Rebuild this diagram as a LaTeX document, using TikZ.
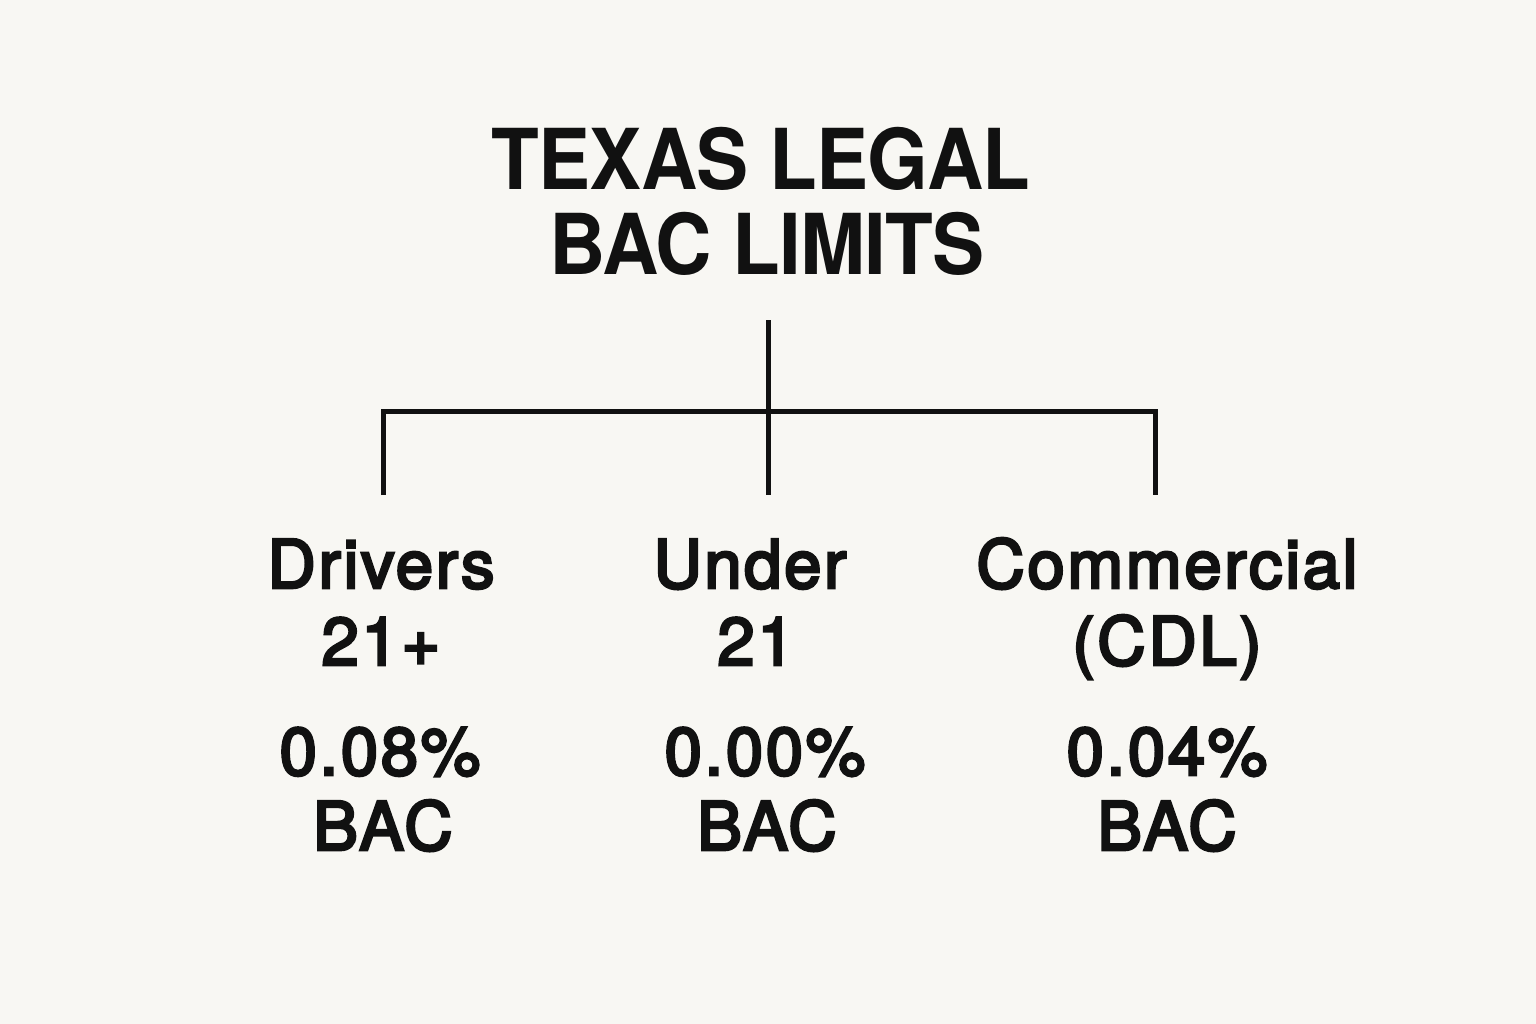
\documentclass[tikz,border=0pt]{standalone}
\usepackage{fontspec}
\setmainfont{TeX Gyre Heros}
\newfontfamily\titlefont{TeX Gyre Heros Bold}[FakeStretch=0.93,LetterSpace=-1]
\newfontfamily\labelfont{TeX Gyre Heros}[FakeBold=4,LetterSpace=4]
\definecolor{bg}{HTML}{F8F7F3}
\definecolor{ink}{HTML}{111111}
\begin{document}
\begin{tikzpicture}[x=1pt,y=-1pt,
  titletext/.style={anchor=base,inner sep=0pt,text=ink,font=\titlefont\fontsize{84}{84}\selectfont},
  labeltext/.style={anchor=base,inner sep=0pt,text=ink,font=\labelfont\fontsize{67}{67}\selectfont},
  wire/.style={draw=ink,line width=5pt}]
\fill[bg] (0,0) rectangle (1536,1024);
\useasboundingbox (0,0) rectangle (1536,1024);
\node[titletext] (t1) at (761,190) {TEXAS LEGAL};
\node[titletext] (t2) at (767,275) {BAC LIMITS};
\coordinate (top) at (768,320);
\coordinate (hub) at (768,411);
\coordinate (lhub) at (383,411);
\coordinate (rhub) at (1155,411);
\coordinate (lend) at (383,495);
\coordinate (mend) at (768,495);
\coordinate (rend) at (1155,495);
\draw[wire] (top) -- (mend);
\draw[wire] (lend) -- (lhub) -- (rhub) -- (rend);
\node[labeltext] (a1) at (381,588) {Drivers};
\node[labeltext] (a2) at (381,665) {21+};
\node[labeltext] (a3) at (380,775) {0.08\%};
\node[labeltext] (a4) at (383,850) {BAC};
\node[labeltext] (b1) at (750,588) {Under};
\node[labeltext] (b2) at (756,665) {21};
\node[labeltext] (b3) at (765,775) {0.00\%};
\node[labeltext] (b4) at (767,850) {BAC};
\node[labeltext] (c1) at (1167,588) {Commercial};
\node[labeltext] (c2) at (1167,665) {(CDL)};
\node[labeltext] (c3) at (1167,775) {0.04\%};
\node[labeltext] (c4) at (1167,850) {BAC};
\end{tikzpicture}
\end{document}
